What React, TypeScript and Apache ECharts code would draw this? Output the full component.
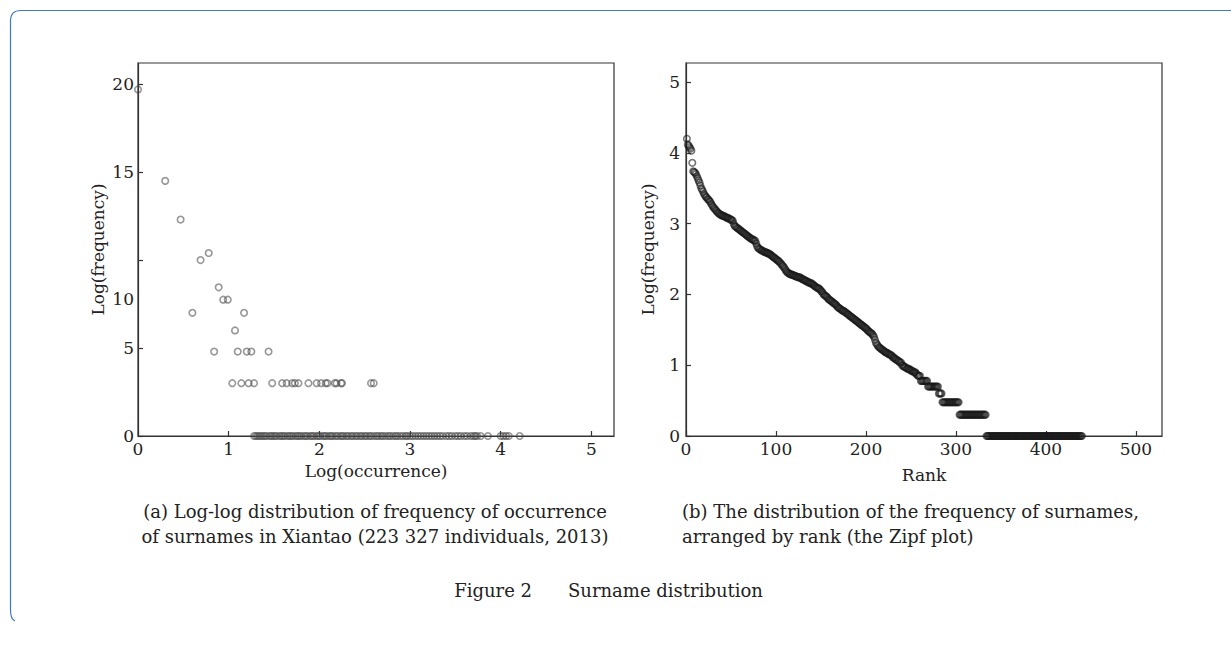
import React, { useEffect, useRef } from "react";
import * as echarts from "echarts";

const FONT = '"DejaVu Serif", "Liberation Serif", serif';

// ---------- (a) Log-log distribution ----------
const aUpperX = [0, 0.3, 0.47, 0.69, 0.78, 0.6, 0.89, 0.94, 0.99, 1.17, 1.07];
const aUpperY = [19.7, 14.5, 12.3, 10.0, 10.4, 7.0, 8.45, 7.75, 7.75, 7.0, 6.0];
const aRowFiveY = 4.8;
const aRowFiveX = [0.84, 1.1, 1.2, 1.25, 1.44];
const aRowThreeY = 3.0;
const aRowThreeX = [1.04, 1.14, 1.22, 1.28, 1.48, 1.59, 1.64, 1.7, 1.73, 1.77, 1.88, 1.97, 2.02, 2.07, 2.09, 2.17, 2.19, 2.24, 2.25, 2.57, 2.6];
const aRowZeroY = 0;
const aRowZeroX = [
  1.28, 1.3, 1.32, 1.34, 1.36, 1.38, 1.4, 1.42, 1.45, 1.47, 1.49, 1.51, 1.53, 1.56, 1.58, 1.6, 1.62, 1.65, 1.67, 1.69,
  1.71, 1.74, 1.76, 1.78, 1.8, 1.83, 1.85, 1.87, 1.9, 1.92, 1.94, 1.97, 1.99, 2.01, 2.04, 2.06, 2.08, 2.11, 2.13, 2.15,
  2.18, 2.2, 2.23, 2.25, 2.27, 2.3, 2.32, 2.35, 2.37, 2.4, 2.42, 2.45, 2.47, 2.5, 2.52, 2.55, 2.57, 2.6, 2.63, 2.65,
  2.68, 2.7, 2.73, 2.76, 2.78, 2.81, 2.84, 2.86, 2.89, 2.92, 2.95, 2.97, 3.0, 3.03, 3.06, 3.09, 3.12, 3.15, 3.18, 3.21,
  3.24, 3.27, 3.3, 3.33, 3.36, 3.4, 3.43, 3.46, 3.5, 3.53, 3.56, 3.6, 3.63, 3.67, 3.7, 3.72, 3.74, 3.78, 3.86, 4.0,
  4.03, 4.06, 4.09, 4.21,
];
const aXTicks = [0, 1, 2, 3, 4, 5];
const aYTickValues = [0, 5, 10, 15, 20];
const aYLabelValues = [0, 5, 7.8, 15, 20];
const aYLabelTexts = ["0", "5", "10", "15", "20"];

// ---------- (b) Zipf plot ----------
const zipfHead = [
  4.2, 4.12, 4.1, 4.08, 4.06, 4.03, 3.86, 3.74, 3.73, 3.72,
  3.7, 3.67, 3.64, 3.61, 3.58, 3.54, 3.5, 3.48, 3.45, 3.42,
  3.4, 3.38, 3.37, 3.35, 3.34, 3.32, 3.31, 3.28, 3.26, 3.24,
  3.22, 3.21, 3.19, 3.18, 3.16, 3.15, 3.14, 3.13, 3.12, 3.12,
  3.11, 3.11, 3.1, 3.09, 3.09, 3.08, 3.08, 3.07, 3.06, 3.06,
  3.05, 3.04, 3.0, 2.97, 2.96, 2.95, 2.94, 2.93, 2.92, 2.91,
  2.9, 2.89, 2.88, 2.87, 2.86, 2.85, 2.84, 2.83, 2.82, 2.81,
  2.8, 2.79, 2.78, 2.78, 2.77, 2.76, 2.76, 2.72, 2.68, 2.66,
  2.65, 2.64, 2.63, 2.62, 2.62, 2.61, 2.6, 2.6, 2.59, 2.59,
  2.58, 2.58, 2.57, 2.56, 2.55, 2.54, 2.53, 2.52, 2.51, 2.5,
  2.49, 2.48, 2.47, 2.46, 2.44, 2.43, 2.41, 2.4, 2.38, 2.36,
  2.34, 2.32, 2.31, 2.3, 2.29, 2.29, 2.28, 2.28, 2.27, 2.27,
  2.26, 2.26, 2.25, 2.25, 2.24, 2.24, 2.24, 2.23, 2.22, 2.21,
  2.21, 2.2, 2.19, 2.19, 2.18, 2.17, 2.17, 2.16, 2.16, 2.15,
  2.14, 2.13, 2.12, 2.11, 2.1, 2.09, 2.09, 2.08, 2.07, 2.05,
  2.04, 2.02, 2.0, 1.99, 1.98, 1.97, 1.96, 1.94, 1.93, 1.92,
  1.91, 1.9, 1.89, 1.88, 1.87, 1.86, 1.85, 1.83, 1.82, 1.81,
  1.8, 1.79, 1.78, 1.77, 1.77, 1.76, 1.75, 1.74, 1.73, 1.72,
  1.71, 1.7, 1.69, 1.68, 1.67, 1.66, 1.65, 1.64, 1.63, 1.62,
  1.61, 1.6, 1.59, 1.58, 1.57, 1.56, 1.55, 1.54, 1.53, 1.52,
  1.51, 1.49, 1.48, 1.47, 1.46, 1.45, 1.44, 1.42, 1.4, 1.36,
  1.32, 1.3, 1.28, 1.26, 1.25, 1.24, 1.23, 1.22, 1.21, 1.2,
  1.19, 1.18, 1.18, 1.17, 1.16, 1.15, 1.15, 1.14, 1.13, 1.11,
  1.11, 1.1, 1.08, 1.08, 1.07, 1.06, 1.05, 1.04, 1.04, 1.0,
  1.0, 0.98, 0.98, 0.97, 0.96, 0.95, 0.95, 0.95, 0.93, 0.93,
  0.92, 0.92, 0.9, 0.9, 0.9, 0.88, 0.86, 0.85, 0.85, 0.85,
];
// run-length encoded plateaus: [log frequency, number of surnames]
const zipfTailRuns = [
  [0.778, 8],
  [0.699, 12],
  [0.602, 4],
  [0.477, 19],
  [0.301, 30],
  [0, 107],
];
const bXTicks = [0, 100, 200, 300, 400, 500];
const bYTicks = [0, 1, 2, 3, 4, 5];

function buildZipf(): number[][] {
  const values: number[] = [...zipfHead];
  zipfTailRuns.forEach(([v, n]) => {
    for (let i = 0; i < n; i++) values.push(v);
  });
  return values.map((v, i) => [i + 1, v]);
}

const markerStyleA = {
  color: "rgba(255,255,255,0)",
  borderColor: "rgba(70,70,70,0.7)",
  borderWidth: 1.6,
};
const markerStyleB = {
  color: "rgba(255,255,255,0)",
  borderColor: "rgba(25,25,25,0.75)",
  borderWidth: 1.6,
};

const tickLabel = { fontFamily: FONT, fontSize: 17, color: "#222" };
const axisName = { fontFamily: FONT, fontSize: 17, color: "#222" };
const axisLineStyle = { color: "#333", width: 1.2 };
const captionFont = `18px ${FONT}`;

export default function App() {
  const ref = useRef<HTMLDivElement>(null);
  useEffect(() => {
    if (!ref.current) return;
    echarts.graphic.registerShape(
      "frameBorder",
      echarts.graphic.extendPath(
        "M 1240 10.5 L 21 10.5 Q 10.5 10.5 10.5 21 L 10.5 610 Q 10.5 619 15 621",
        {}
      )
    );
    const chart = echarts.init(ref.current, null, { renderer: "svg" });

    const aPoints: number[][] = [];
    aUpperX.forEach((x, i) => aPoints.push([x, aUpperY[i]]));
    aRowFiveX.forEach((x) => aPoints.push([x, aRowFiveY]));
    aRowThreeX.forEach((x) => aPoints.push([x, aRowThreeY]));
    aRowZeroX.forEach((x) => aPoints.push([x, aRowZeroY]));

    const option: any = {
      animation: false,
      backgroundColor: "#fff",
      grid: [
        { left: 138, top: 63, width: 476, height: 373, show: true, borderColor: "#333", borderWidth: 1.2, containLabel: false },
        { left: 686, top: 63, width: 476, height: 373, show: true, borderColor: "#333", borderWidth: 1.2, containLabel: false },
      ],
      xAxis: [
        {
          gridIndex: 0, type: "value", min: 0, max: 5.25,
          splitLine: { show: false },
          axisLine: { lineStyle: axisLineStyle },
          axisTick: { inside: true, length: 5, customValues: aXTicks, lineStyle: axisLineStyle },
          axisLabel: { ...tickLabel, margin: 4, customValues: aXTicks, formatter: (v: number) => String(v) },
          name: "Log(occurrence)", nameLocation: "middle", nameGap: 26, nameTextStyle: axisName,
        },
        {
          gridIndex: 1, type: "value", min: 0, max: 529,
          splitLine: { show: false },
          axisLine: { lineStyle: axisLineStyle },
          axisTick: { inside: true, length: 5, customValues: bXTicks, lineStyle: axisLineStyle },
          axisLabel: { ...tickLabel, margin: 4, customValues: bXTicks, formatter: (v: number) => String(v) },
          name: "Rank", nameLocation: "middle", nameGap: 30, nameTextStyle: axisName,
        },
      ],
      yAxis: [
        {
          gridIndex: 0, type: "value", min: 0, max: 21.2,
          splitLine: { show: false },
          axisLine: { lineStyle: axisLineStyle },
          axisTick: { inside: true, length: 5, customValues: aYTickValues, lineStyle: axisLineStyle },
          axisLabel: {
            ...tickLabel, margin: 4, customValues: aYLabelValues,
            formatter: (v: number) => aYLabelTexts[aYLabelValues.indexOf(v)] ?? "",
          },
          name: "Log(frequency)", nameLocation: "middle", nameGap: 32, nameTextStyle: axisName,
        },
        {
          gridIndex: 1, type: "value", min: 0, max: 5.27,
          splitLine: { show: false },
          axisLine: { lineStyle: axisLineStyle },
          axisTick: { inside: true, length: 5, customValues: bYTicks, lineStyle: axisLineStyle },
          axisLabel: { ...tickLabel, margin: 6, customValues: bYTicks, formatter: (v: number) => String(v) },
          name: "Log(frequency)", nameLocation: "middle", nameGap: 30, nameTextStyle: axisName,
        },
      ],
      series: [
        {
          type: "scatter", xAxisIndex: 0, yAxisIndex: 0, data: aPoints,
          symbol: "circle", symbolSize: 6.5, itemStyle: markerStyleA, clip: true,
        },
        {
          type: "scatter", xAxisIndex: 1, yAxisIndex: 1, data: buildZipf(),
          symbol: "circle", symbolSize: 6.5, itemStyle: markerStyleB, clip: true,
        },
      ],
      graphic: [
        { type: "frameBorder", x: 0, y: 0, style: { fill: "none", stroke: "#3a7bc8", lineWidth: 1.2 }, silent: true },
        { type: "text", x: 375, y: 511, style: { text: "(a) Log-log distribution of frequency of occurrence", font: captionFont, fill: "#222", align: "center", verticalAlign: "middle" } },
        { type: "text", x: 375, y: 536, style: { text: "of surnames in Xiantao (223 327 individuals, 2013)", font: captionFont, fill: "#222", align: "center", verticalAlign: "middle" } },
        { type: "text", x: 682, y: 511, style: { text: "(b) The distribution of the frequency of surnames,", font: captionFont, fill: "#222", align: "left", verticalAlign: "middle" } },
        { type: "text", x: 682, y: 536, style: { text: "arranged by rank (the Zipf plot)", font: captionFont, fill: "#222", align: "left", verticalAlign: "middle" } },
        { type: "text", x: 532, y: 590, style: { text: "Figure 2", font: captionFont, fill: "#222", align: "right", verticalAlign: "middle" } },
        { type: "text", x: 568, y: 590, style: { text: "Surname distribution", font: captionFont, fill: "#222", align: "left", verticalAlign: "middle" } },
      ],
    };
    chart.setOption(option);
    return () => chart.dispose();
  }, []);
  return (
    <div
      ref={ref}
      style={{ position: "fixed", left: 0, top: 0, width: 1231, height: 646, background: "#fff" }}
    />
  );
}
